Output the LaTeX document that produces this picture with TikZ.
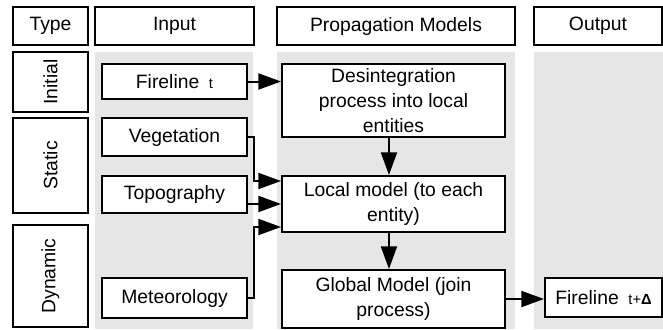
\documentclass[tikz,border=0pt]{standalone}
\usepackage{fontspec}
\setmainfont{Liberation Sans}
\usetikzlibrary{arrows.meta}
\definecolor{panel}{HTML}{E6E6E6}
\begin{document}
\begin{tikzpicture}[x=0.75pt,y=-0.75pt,
  box/.style={draw=black, line width=1.5pt, fill=white, inner sep=0pt,
    align=center, font=\fontsize{14.5}{18.75}\selectfont},
  wh/.style 2 args={minimum width=#1*0.75pt, minimum height=#2*0.75pt},
  arr/.style={line width=1.5pt, -{Triangle[length=17pt,width=12pt]}}]
\useasboundingbox (0,0) rectangle (663,329);

% column panels
\fill[panel] (95,52) rectangle (253,329);
\fill[panel] (277,52) rectangle (515,329);
\fill[panel] (534,52) rectangle (663,329);

% header row
\node[box, wh={75}{38}]  (hType)  at (50.5,26)  {Type};
\node[box, wh={159}{38}] (hInput) at (174.5,26) {Input};
\node[box, wh={238}{38}] (hProp)  at (396,26)   {Propagation Models};
\node[box, wh={128}{38}] (hOut)   at (598,26)   {Output};

% type column
\node[box, wh={75}{60}]  (initial) at (50.5,82)    {\rotatebox{90}{Initial}};
\node[box, wh={75}{95}]  (static)  at (50.5,165.5) {\rotatebox{90}{Static}};
\node[box, wh={75}{102}] (dynamic) at (50.5,276)   {\rotatebox{90}{Dynamic}};

% inputs
\node[box, wh={145}{35}] (fire)  at (174.5,81.5) {Fireline\enspace{\fontsize{11}{12}\selectfont t}};
\node[box, wh={145}{38}] (veg)   at (174.5,137)  {Vegetation};
\node[box, wh={145}{37}] (topo)  at (174.5,194.5) {Topography};
\node[box, wh={145}{40}] (meteo) at (174.5,298)  {Meteorology};

% propagation models
\node[box, wh={223}{73}] (des)    at (393.5,100.5) {Desintegration\\process into local\\entities};
\node[box, wh={223}{56}] (local)  at (393.5,204)   {Local model (to each\\entity)};
\node[box, wh={223}{58}] (global) at (393.5,299)   {Global Model (join\\process)};

% output
\node[box, wh={117}{39}] (fireout) at (603.5,297.5)
  {Fireline\enspace{\fontsize{11}{12}\selectfont t+\textbf{Δ}}};

% junction points of the input connectors
\coordinate (jveg)   at (254,181);
\coordinate (jmeteo) at (254,227);

% connectors
\draw[arr] (fire.east) -- (fire.east -| des.west);
\draw[arr] ([xshift=-3.4pt]des.south) -- ([xshift=-3.4pt]local.north);
\draw[arr] (veg.east) -| (jveg) -- (jveg -| local.west);
\draw[arr] ([yshift=-7.1pt]topo.east) -- ([yshift=-7.1pt]topo.east -| local.west);
\draw[arr] (meteo.east) -| (jmeteo) -- (jmeteo -| local.west);
\draw[arr] ([xshift=-3.4pt]local.south) -- ([xshift=-3.4pt]global.north);
\draw[arr] (global.east) -- (global.east -| fireout.west);
\end{tikzpicture}
\end{document}
